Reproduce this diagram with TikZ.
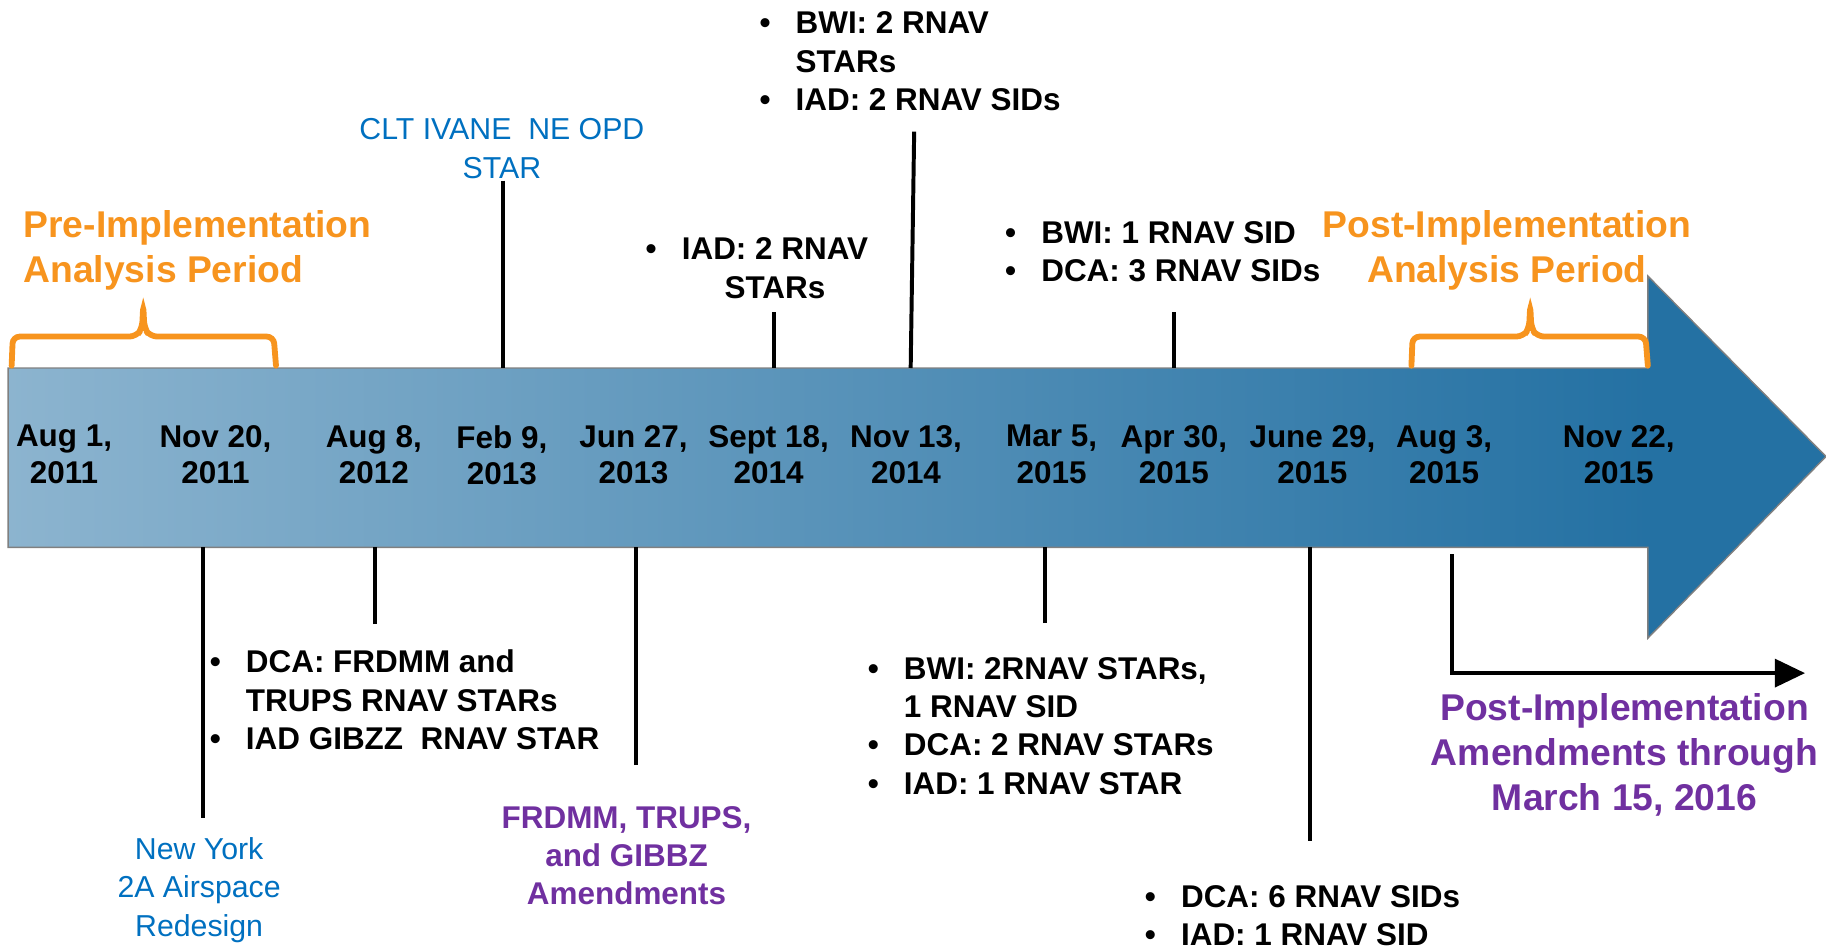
\documentclass[tikz,border=0pt]{standalone}
\usepackage{fontspec}
\setmainfont{Liberation Sans}
\usetikzlibrary{arrows.meta}
\newcommand{\itm}{\makebox[31pt][l]{\textbullet}}
\newcommand{\ind}{\hspace*{31pt}}

\begin{document}
\begin{tikzpicture}[x=1pt, y=-1pt, >={Triangle[length=26pt, width=24pt]},
		date/.style={font=\bfseries\fontsize{27}{31}\selectfont, align=center, anchor=north, inner sep=0pt},
		item/.style={font=\bfseries\fontsize{27}{33}\selectfont, align=left, anchor=north west, inner sep=0pt},
		bluenote/.style={font=\fontsize{26}{33}\selectfont, text=lineblue, align=center, anchor=north, inner sep=0pt},
		amend/.style={font=\bfseries\fontsize{27}{33}\selectfont, text=amendpurple, align=center, anchor=north, inner sep=0pt},
		period/.style={font=\bfseries\fontsize{32}{39}\selectfont, text=periodorange, inner sep=0pt},
		tick/.style={line width=3.4pt},
		brace/.style={periodorange, line width=5pt, rounded corners=6pt, line cap=round}]
	\definecolor{barlight}{RGB}{140, 180, 207}
	\definecolor{barmid}{RGB}{104, 157, 196}
	\definecolor{bardark}{RGB}{36, 113, 163}
	\definecolor{lineblue}{RGB}{0, 112, 192}
	\definecolor{amendpurple}{RGB}{112, 48, 160}
	\definecolor{periodorange}{RGB}{247, 148, 30}
	\useasboundingbox (0,0) rectangle (1568,815);
	% timeline arrow
	\shade[left color=barlight, middle color=barmid, right color=bardark] (7,316) rectangle (1416,470);
	\fill[bardark] (1415,237) -- (1568,392) -- (1415,548) -- cycle;
	\draw[gray, line width=1.2pt] (7,316) -- (1415,316) -- (1415,237) -- (1568,392) -- (1415,548) -- (1415,470) -- (7,470) -- cycle;
	\coordinate (bartop) at (0,316);
	\coordinate (barbot) at (0,470);
	% dates
	\node[date] (d1) at (55,365) {Aug 1,\\2011};
	\node[date] (d2) at (185,365) {Nov 20,\\2011};
	\node[date] (d3) at (321,365) {Aug 8,\\2012};
	\node[date] (d4) at (431,365) {Feb 9,\\2013};
	\node[date] (d5) at (544,365) {Jun 27,\\2013};
	\node[date] (d6) at (660,365) {Sept 18,\\2014};
	\node[date] (d7) at (778,365) {Nov 13,\\2014};
	\node[date] (d8) at (903,365) {Mar 5,\\2015};
	\node[date] (d9) at (1008,365) {Apr 30,\\2015};
	\node[date] (d10) at (1127,365) {June 29,\\2015};
	\node[date] (d11) at (1240,365) {Aug 3,\\2015};
	\node[date] (d12) at (1390,365) {Nov 22,\\2015};
	% analysis periods
	\node[period, anchor=north west, align=left] (pre) at (20,180.5) {Pre-Implementation\\Analysis Period};
	\node[period, anchor=north, align=center] (post) at (1294,180.5) {Post-Implementation\\Analysis Period};
	\draw[brace] (10,314) -- (11,289) -- (117,289) -- (122,282) -- (123,262) -- (124,282) -- (129,289) -- (235,289) -- (237,314);
	\draw[brace] (1212,314) -- (1213,289) -- (1308,289) -- (1313,282) -- (1314,262) -- (1315,282) -- (1320,289) -- (1413,289) -- (1415,314);
	% events above the timeline
	\node[bluenote] (clt) at (431,101.5) {CLT IVANE\ \ NE OPD\\STAR};
	\node[item, anchor=north, align=center] (iadstar) at (650,204) {\itm IAD: 2 RNAV\\\ind STARs};
	\node[item] (bwistar) at (652,10) {\itm BWI: 2 RNAV\\\ind STARs\\\itm IAD: 2 RNAV SIDs};
	\node[item] (bwisid) at (863,190) {\itm BWI: 1 RNAV SID\\\itm DCA: 3 RNAV SIDs};
	\coordinate (u4) at (432,155);
	\coordinate (u6) at (665,268);
	\coordinate (u7) at (785,113);
	\coordinate (u7b) at (782,316);
	\coordinate (u9) at (1008,268);
	\draw[tick] (u4) -- (u4 |- bartop);
	\draw[tick] (u6) -- (u6 |- bartop);
	\draw[tick] (u7) -- (u7b);
	\draw[tick] (u9) -- (u9 |- bartop);
	% events below the timeline
	\node[bluenote] (nyc) at (171,718.7) {New York\\2A Airspace\\Redesign};
	\node[item] (frdmm) at (180,558) {\itm DCA: FRDMM and\\\ind TRUPS RNAV STARs\\\itm IAD GIBZZ\ \ RNAV STAR};
	\node[amend] (gibbz) at (538,692) {FRDMM, TRUPS,\\and GIBBZ\\Amendments};
	\node[item] (bwimar) at (745,564) {\itm BWI: 2RNAV STARs,\\\ind 1 RNAV SID\\\itm DCA: 2 RNAV STARs\\\itm IAD: 1 RNAV STAR};
	\node[item] (dcasid) at (983,760) {\itm DCA: 6 RNAV SIDs\\\itm IAD: 1 RNAV SID};
	\node[amend, font=\bfseries\fontsize{32}{38.5}\selectfont] (postamd) at (1395,595.5) {Post-Implementation\\Amendments through\\March 15, 2016};
	\coordinate (l2) at (174,702);
	\coordinate (l3) at (322,536);
	\coordinate (l5) at (546,657);
	\coordinate (l8) at (897,535);
	\coordinate (l10) at (1125,722);
	\coordinate (l11) at (1247,476);
	\coordinate (l11end) at (1550,578);
	\draw[tick] (l2) -- (l2 |- barbot);
	\draw[tick] (l3) -- (l3 |- barbot);
	\draw[tick] (l5) -- (l5 |- barbot);
	\draw[tick] (l8) -- (l8 |- barbot);
	\draw[tick] (l10) -- (l10 |- barbot);
	\draw[tick, ->] (l11) |- (l11end);
\end{tikzpicture}
\end{document}
